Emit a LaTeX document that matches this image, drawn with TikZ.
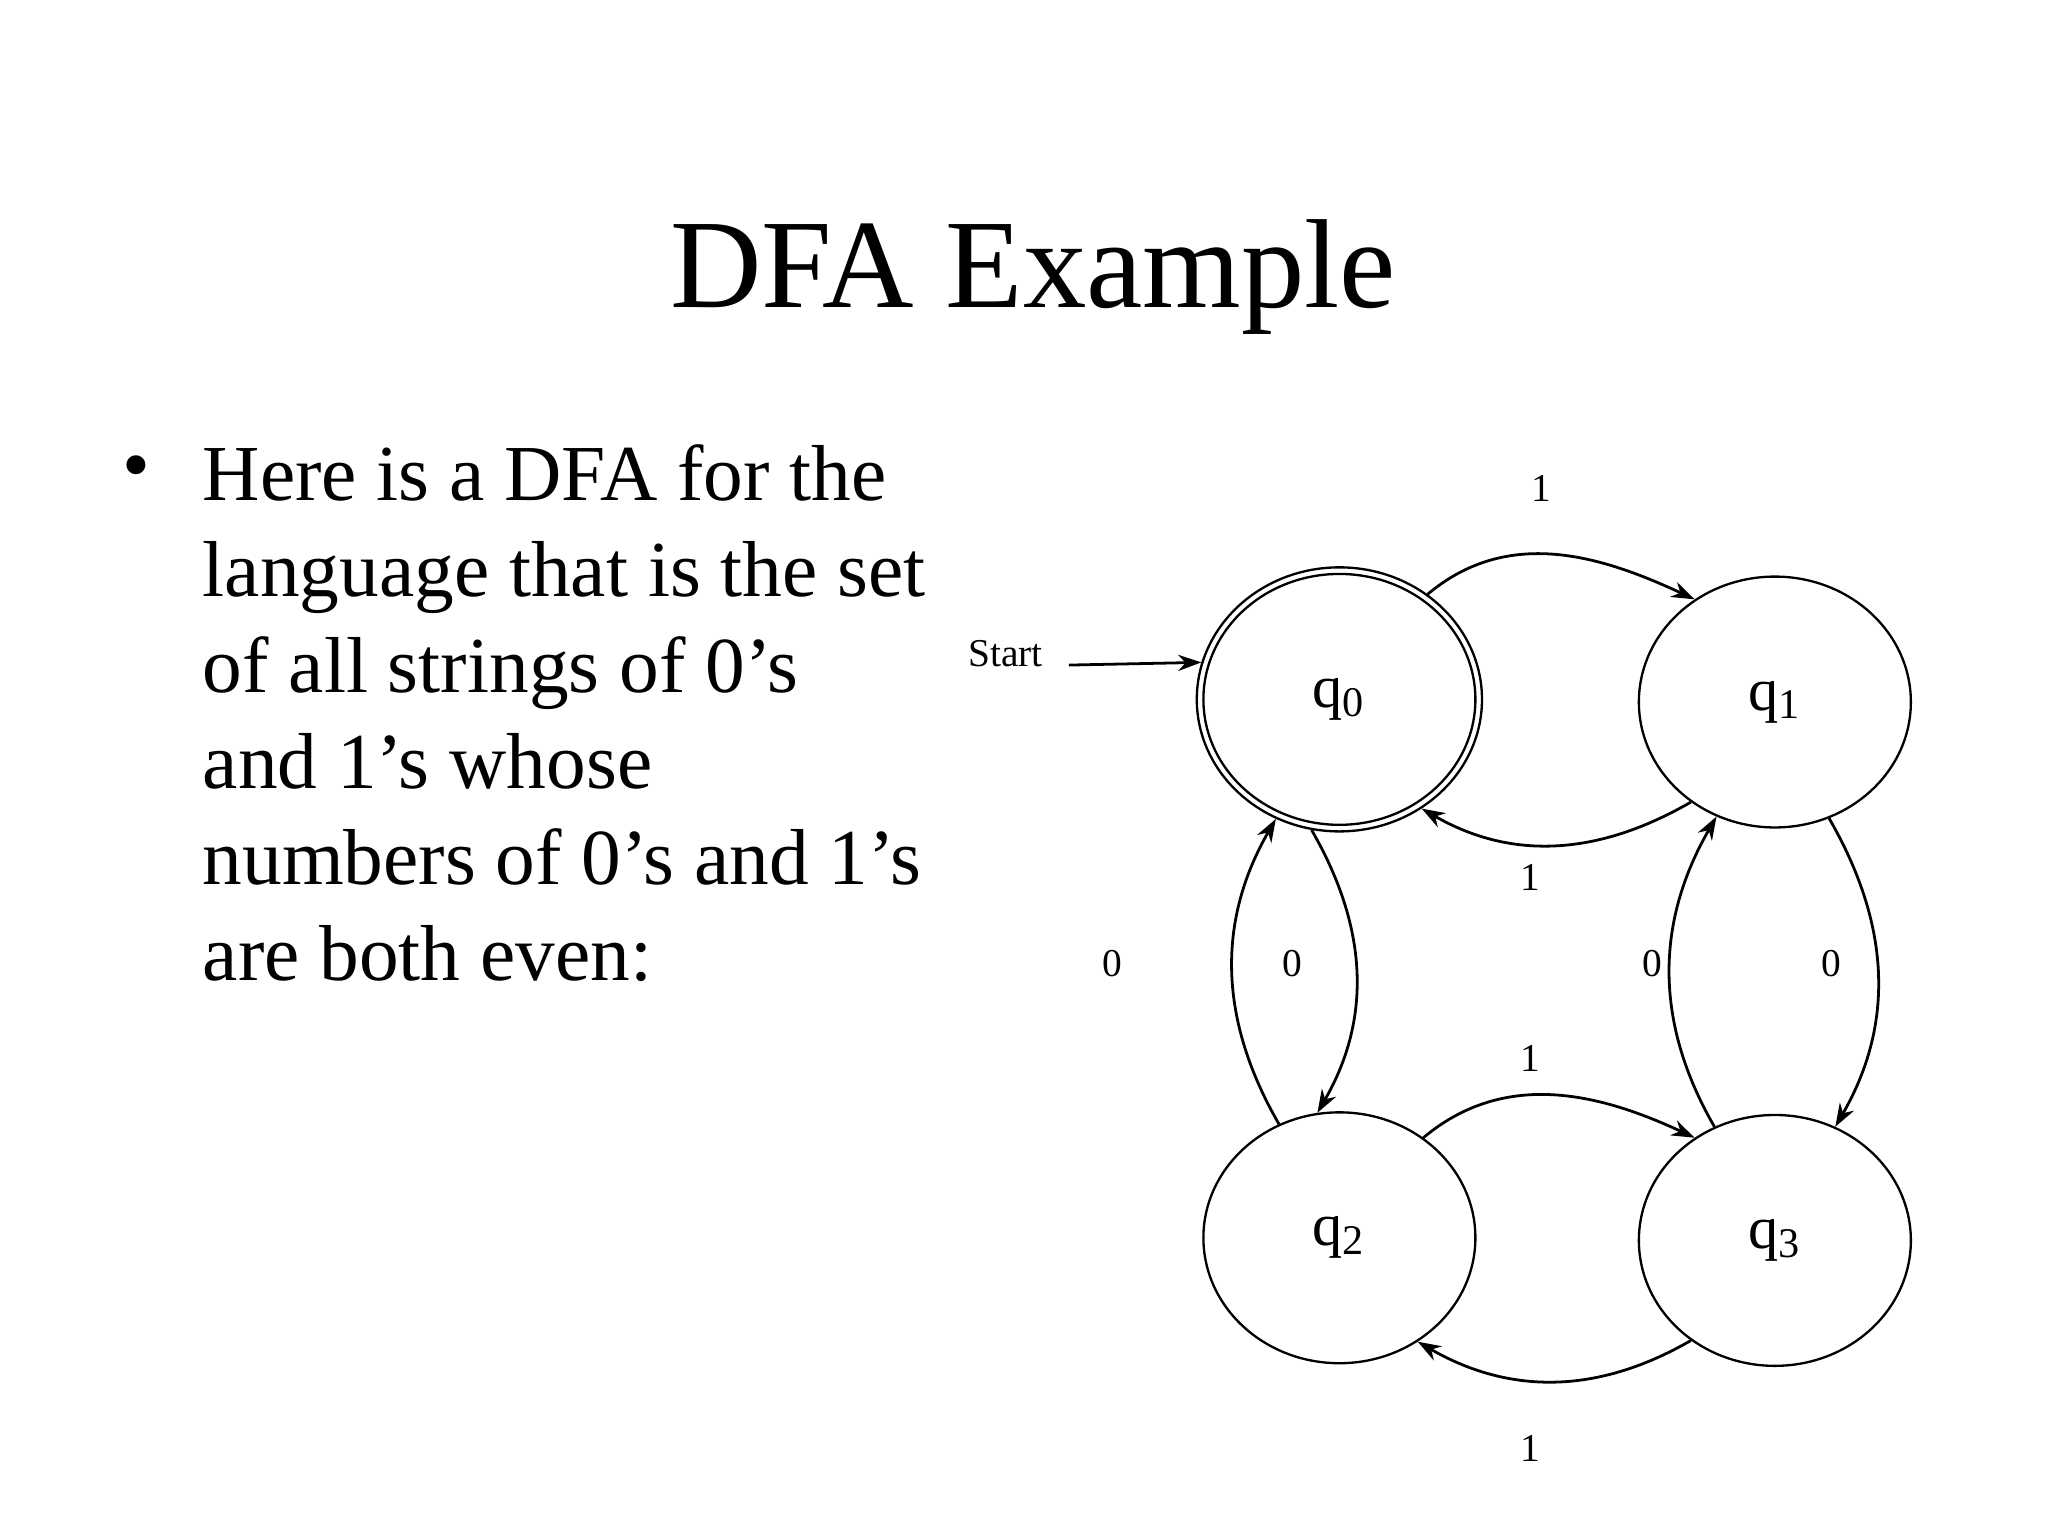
\documentclass[tikz,border=0pt]{standalone}
\usepackage{fontspec}
\setmainfont{Liberation Serif}
\usetikzlibrary{shapes.geometric,arrows.meta}
\begin{document}
\begin{tikzpicture}[x=0.01cm,y=-0.01cm,
  st/.style={draw,ellipse,minimum width=2.06cm,minimum height=1.9cm,inner sep=0,font=\fontsize{13}{13}\selectfont,line width=0.5pt},
  tr/.style={-{Stealth[length=5pt,width=3.5pt]},line width=0.6pt},
  lb/.style={font=\fontsize{8.5}{9}\selectfont}]
\useasboundingbox (0,0) rectangle (1552,1164);
\node[font=\fontsize{27.3}{28}\selectfont] (title) at (783,210) {DFA Example};
\node[font=\fontsize{17.1}{20.7}\selectfont,align=left,anchor=north west,inner sep=0] (txt) at (153,336)
 {Here is a DFA for the\\language that is the set\\of all strings of 0’s\\and 1’s whose\\numbers of 0’s and 1’s\\are both even:};
\node[font=\fontsize{17.1}{20}\selectfont,inner sep=0] (bul) at (103,359) {•};
\node[st] (q0) at (1015,530) {q\textsubscript{0}};
\node[draw,ellipse,minimum width=2.16cm,minimum height=2.0cm,line width=0.5pt] (q0o) at (1015,530) {};
\node[st] (q1) at (1345,532) {q\textsubscript{1}};
\node[st] (q2) at (1015,938) {q\textsubscript{2}};
\node[st] (q3) at (1345,940) {q\textsubscript{3}};
\node[lb] (start) at (762,495) {Start};
\coordinate (s0) at (810,504);
\draw[tr] (s0) -- (q0o.165);
\draw[tr] (q0o.50) to[out=40,in=155] (q1.128);
\draw[tr] (q1.-130) to[out=-150,in=-30] (q0o.-53);
\draw[tr] (q2.50) to[out=40,in=155] (q3.128);
\draw[tr] (q3.-130) to[out=-150,in=-30] (q2.-53);
\draw[tr] (q2.118) to[out=120,in=-120] (q0o.-118);
\draw[tr] (q0o.-102) to[out=-60,in=60] (q2.100);
\draw[tr] (q3.118) to[out=120,in=-120] (q1.-117);
\draw[tr] (q1.-65) to[out=-60,in=60] (q3.62);
\node[lb] (l1) at (1168,370) {1};
\node[lb] (l2) at (1160,665) {1};
\node[lb] (l3) at (1160,802) {1};
\node[lb] (l4) at (1160,1098) {1};
\node[lb] (l5) at (843,730) {0};
\node[lb] (l6) at (979,730) {0};
\node[lb] (l7) at (1252,730) {0};
\node[lb] (l8) at (1388,730) {0};
\end{tikzpicture}
\end{document}
